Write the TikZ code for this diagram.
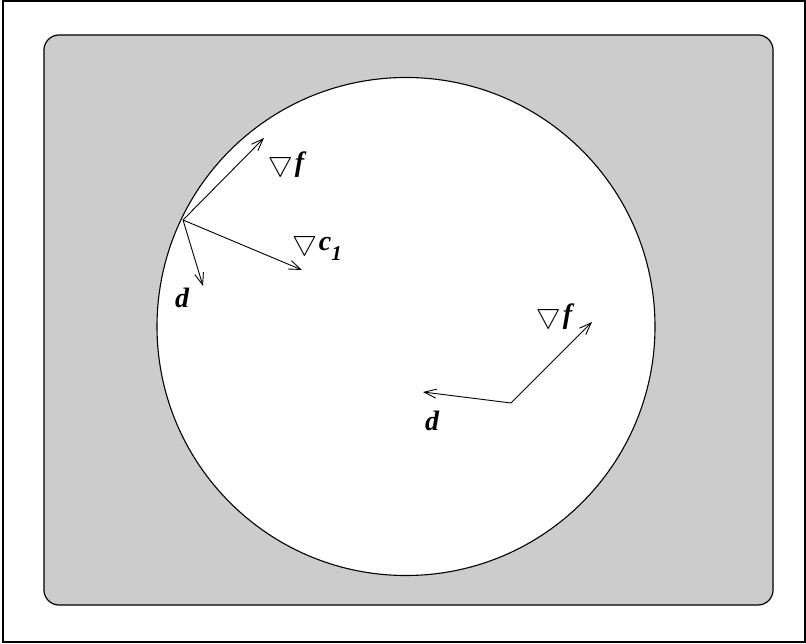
\RequirePackage{fix-cm}
\documentclass[tikz,border=0pt]{standalone}
\usepackage{fontspec}
\setmainfont{Liberation Serif}
\usetikzlibrary{arrows.meta}
\tikzset{
	vec/.style={-{Straight Barb[length=12pt,width=9pt]}, line width=0.9pt},
	lbl/.style={font=\fontsize{28}{32}\selectfont\bfseries\itshape, inner sep=0pt},
}
\newcommand{\gradsym}{$\bigtriangledown$}
\begin{document}
\begin{tikzpicture}[x=1pt, y=-1pt]
	\useasboundingbox (0, 0) rectangle (806, 644);
	% Frame, feasible region and circle:
	\draw[line width=1.2pt] (3, 1) rectangle (805, 642);
	\draw[line width=1.2pt, fill=black!20, rounded corners=15pt] (44, 35) rectangle (773, 605);
	\draw[line width=1.1pt, fill=white] (406, 326.5) circle[radius=249pt];
	% Point on the boundary:
	\coordinate (p1) at (183, 220);
	\coordinate (gf1) at (264, 138);
	\coordinate (gc1) at (302, 270);
	\coordinate (d1) at (203, 286);
	\draw[vec] (p1) -- (gf1);
	\draw[vec] (p1) -- (gc1);
	\draw[vec] (p1) -- (d1);
	\node[lbl] (lgf1) at (286, 165){\gradsym\kern2pt f};
	\node[lbl] (lgc1) at (317, 246){\gradsym\kern2pt c\raisebox{-0.35em}{\fontsize{21}{24}\selectfont 1}};
	\node[lbl] (ld1) at (182, 298){d};
	% Interior point:
	\coordinate (p2) at (511, 403);
	\coordinate (gf2) at (592, 322);
	\coordinate (d2) at (423, 392);
	\draw[vec] (p2) -- (gf2);
	\draw[vec] (p2) -- (d2);
	\node[lbl] (lgf2) at (554, 317){\gradsym\kern2pt f};
	\node[lbl] (ld2) at (432, 421){d};
\end{tikzpicture}
\end{document}
